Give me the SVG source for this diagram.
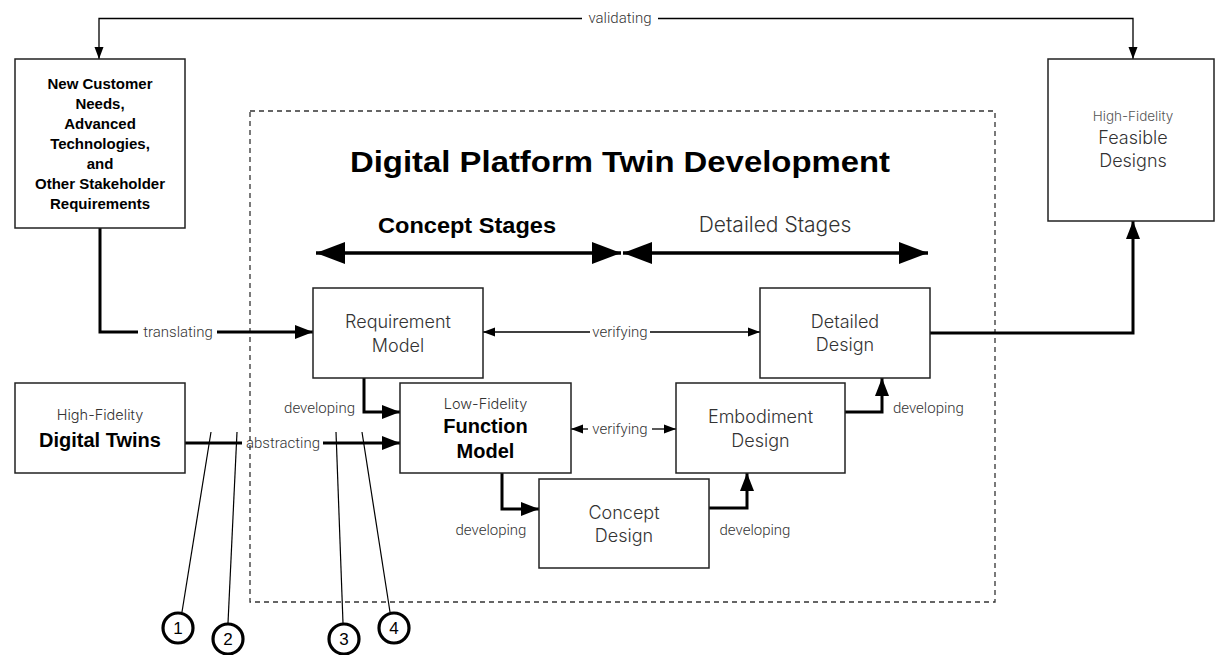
<svg xmlns="http://www.w3.org/2000/svg" width="1215" height="655" viewBox="0 0 1215 655">
<style>
.box{fill:#fff;stroke:#222;stroke-width:1.5}
.frame{fill:none;stroke:#333;stroke-width:1.3;stroke-dasharray:5 4}
.thick{fill:none;stroke:#000;stroke-width:3}
.thin{fill:none;stroke:#000;stroke-width:1.3}
.stage{fill:none;stroke:#000;stroke-width:3.5}
.lead{fill:none;stroke:#000;stroke-width:1.2}
.ring{fill:#fff;stroke:#000;stroke-width:3.2}
.lbl{font-family:Roboto,"Liberation Sans",Arial,sans-serif;font-weight:300;font-size:15px;fill:#333}
.light{font-family:Inter,Roboto,"Liberation Sans",Arial,sans-serif;font-weight:300;fill:#333;text-anchor:middle}
.bold{font-family:"Liberation Sans",Arial,sans-serif;font-weight:bold;fill:#000;text-anchor:middle}
.num{font-family:"Liberation Sans",Arial,sans-serif;font-size:17px;fill:#000;text-anchor:middle}
</style>
<defs>
<marker id="ah" markerUnits="userSpaceOnUse" markerWidth="18" markerHeight="14" refX="18" refY="7" orient="auto-start-reverse"><path d="M0,0 L18,7 L0,14 z" fill="#000"/></marker>
<marker id="at" markerUnits="userSpaceOnUse" markerWidth="12" markerHeight="10" refX="12" refY="5" orient="auto-start-reverse"><path d="M0,0.5 L12,5 L0,9.5 z" fill="#000"/></marker>
<marker id="ab" markerUnits="userSpaceOnUse" markerWidth="29" markerHeight="24" refX="29" refY="12" orient="auto-start-reverse"><path d="M0,1 L29,12 L0,23 z" fill="#000"/></marker>
</defs>

<rect class="frame" x="250" y="111" width="745" height="491"/>

<g id="title">
<text class="bold" x="620" y="172" font-size="29.5" textLength="540" lengthAdjust="spacingAndGlyphs">Digital Platform Twin Development</text>
<text class="bold" x="467" y="233" font-size="22" textLength="178" lengthAdjust="spacingAndGlyphs">Concept Stages</text>
<text class="light" x="775" y="232" font-size="21">Detailed Stages</text>
</g>

<g id="connectors">
<path class="stage" d="M316,253 L621,253" marker-start="url(#ab)" marker-end="url(#ab)"/>
<path class="stage" d="M623,253 L928,253" marker-start="url(#ab)" marker-end="url(#ab)"/>
<path class="thin" d="M582,18.5 L99,18.5 L99,59" marker-end="url(#at)"/>
<path class="thin" d="M658,18.5 L1133,18.5 L1133,59" marker-end="url(#at)"/>
<path class="thick" d="M100,228 L100,332 L138,332"/>
<path class="thick" d="M217,332 L313,332" marker-end="url(#ah)"/>
<path class="thin" d="M590,332 L483,332" marker-end="url(#at)"/>
<path class="thin" d="M650,332 L760,332" marker-end="url(#at)"/>
<path class="thin" d="M588,429 L571,429" marker-end="url(#at)"/>
<path class="thin" d="M652,429 L676,429" marker-end="url(#at)"/>
<path class="thick" d="M185,443 L242,443"/>
<path class="thick" d="M323,443 L400,443" marker-end="url(#ah)"/>
<path class="thick" d="M364,378 L364,412 L400,412" marker-end="url(#ah)"/>
<path class="thick" d="M502,473 L502,509 L539,509" marker-end="url(#ah)"/>
<path class="thick" d="M709,508 L747,508 L747,473" marker-end="url(#ah)"/>
<path class="thick" d="M845,412 L882,412 L882,378" marker-end="url(#ah)"/>
<path class="thick" d="M930,333 L1133,333 L1133,221" marker-end="url(#ah)"/>
<path class="lead" d="M211,432 L182,612"/>
<path class="lead" d="M237,432 L228,623"/>
<path class="lead" d="M336,432 L343,623"/>
<path class="lead" d="M362,432 L390,612"/>
</g>

<g id="labels">
<text class="lbl" x="620" y="23" text-anchor="middle">validating</text>
<text class="lbl" x="178" y="337" text-anchor="middle">translating</text>
<text class="lbl" x="620" y="337" text-anchor="middle">verifying</text>
<text class="lbl" x="620" y="434" text-anchor="middle">verifying</text>
<text class="lbl" x="283" y="448" text-anchor="middle">abstracting</text>
<text class="lbl" x="355" y="413" text-anchor="end">developing</text>
<text class="lbl" x="491" y="535" text-anchor="middle">developing</text>
<text class="lbl" x="755" y="535" text-anchor="middle">developing</text>
<text class="lbl" x="893" y="413">developing</text>
</g>

<g id="needs">
<rect class="box" x="15" y="59" width="170" height="169"/>
<text class="bold" font-size="15" x="100"><tspan x="100" y="89">New Customer</tspan><tspan x="100" y="109">Needs,</tspan><tspan x="100" y="129">Advanced</tspan><tspan x="100" y="149">Technologies,</tspan><tspan x="100" y="169">and</tspan><tspan x="100" y="189">Other Stakeholder</tspan><tspan x="100" y="209">Requirements</tspan></text>
</g>

<g id="feasible">
<rect class="box" x="1048" y="59" width="166" height="162"/>
<text class="light" x="1133" y="121" font-size="13.5" style="fill:#555">High-Fidelity</text>
<text class="light" x="1133" y="144" font-size="18">Feasible</text>
<text class="light" x="1133" y="167" font-size="18">Designs</text>
</g>

<g id="digital-twins">
<rect class="box" x="15" y="383" width="170" height="90"/>
<text class="light" x="100" y="420" font-size="14.5">High-Fidelity</text>
<text class="bold" x="100" y="447" font-size="20">Digital Twins</text>
</g>

<g id="requirement">
<rect class="box" x="313" y="288" width="170" height="90"/>
<text class="light" x="398" y="328" font-size="18">Requirement</text>
<text class="light" x="398" y="352" font-size="18">Model</text>
</g>

<g id="function">
<rect class="box" x="400" y="383" width="171" height="90"/>
<text class="light" x="485.5" y="409" font-size="14.5">Low-Fidelity</text>
<text class="bold" x="485.5" y="433" font-size="20">Function</text>
<text class="bold" x="485.5" y="458" font-size="20">Model</text>
</g>

<g id="concept">
<rect class="box" x="539" y="479" width="170" height="89"/>
<text class="light" x="624" y="519" font-size="18">Concept</text>
<text class="light" x="624" y="542" font-size="18">Design</text>
</g>

<g id="embodiment">
<rect class="box" x="676" y="383" width="169" height="90"/>
<text class="light" x="760.5" y="423" font-size="18">Embodiment</text>
<text class="light" x="760.5" y="447" font-size="18">Design</text>
</g>

<g id="detailed">
<rect class="box" x="760" y="288" width="170" height="90"/>
<text class="light" x="845" y="328" font-size="18">Detailed</text>
<text class="light" x="845" y="351" font-size="18">Design</text>
</g>

<g id="callout-1"><circle class="ring" cx="178" cy="628" r="15"/><text class="num" x="178" y="634">1</text></g>
<g id="callout-2"><circle class="ring" cx="228" cy="639" r="15"/><text class="num" x="228" y="645">2</text></g>
<g id="callout-3"><circle class="ring" cx="344" cy="639" r="15"/><text class="num" x="344" y="645">3</text></g>
<g id="callout-4"><circle class="ring" cx="394" cy="628" r="15"/><text class="num" x="394" y="634">4</text></g>
</svg>
